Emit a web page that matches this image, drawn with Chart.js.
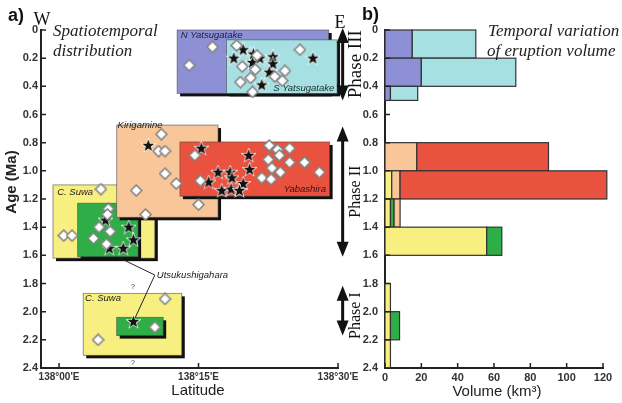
<!DOCTYPE html>
<html>
<head>
<meta charset="utf-8">
<script src="https://cdn.jsdelivr.net/npm/chart.js@4.4.1/dist/chart.umd.min.js"></script>
<style>
html,body{margin:0;padding:0;background:#fff;}
#wrap{position:relative;width:622px;height:403px;overflow:hidden;}
#wrap canvas{position:absolute;left:0;top:0;}
</style>
</head>
<body>
<div id="wrap">
<canvas id="left" width="622" height="403"></canvas>
<canvas id="right" width="622" height="403"></canvas>
</div>
<script>
// ---- axes ----
const ageTicks = [0, 0.2, 0.4, 0.6, 0.8, 1.0, 1.2, 1.4, 1.6, 1.8, 2.0, 2.2, 2.4];
const lonTicks = [0, 15, 30]; // minutes east of 138°00'
const lonLabels = ["138°00'E", "138°15'E", "138°30'E"];
const volTicks = [0, 20, 40, 60, 80, 100, 120];

// ---- a) boxes: extent of each volcano (lon in minutes from 138°00'E, age in Ma) ----
const boxKind    = ['suwa', 'utsu', 'kiri', 'yaba', 'nyatsu', 'syatsu', 'suwa', 'utsu'];
const boxLonW    = [-0.65, 2.0, 6.2, 13.0, 12.7, 18.0, 2.6, 6.2];
const boxLonE    = [10.3, 8.5, 17.1, 29.1, 29.0, 29.9, 13.2, 11.2];
const boxAgeTop  = [1.10, 1.23, 0.675, 0.795, 0.0, 0.07, 1.87, 2.04];
const boxAgeBase = [1.62, 1.61, 1.33, 1.18, 0.45, 0.45, 2.31, 2.17];

// ---- a) dated samples [lon, age] ----
const yatsuDiamonds = [[19.1,0.11],[21.3,0.18],[19.7,0.26],[21.1,0.28],[25.9,0.14],[24.3,0.29],[23.2,0.33],[24.0,0.36],[19.5,0.37],[20.6,0.34],[20.8,0.44],[16.5,0.12],[14.0,0.25]];
const yatsuStars    = [[18.8,0.20],[19.8,0.14],[20.8,0.23],[21.6,0.20],[23.0,0.19],[23.0,0.24],[22.6,0.30],[27.3,0.20],[21.8,0.39],[20.9,0.17]];
const yabaDiamonds  = [[14.6,0.89],[15.2,1.07],[22.6,0.82],[23.5,0.85],[24.8,0.84],[23.7,0.89],[22.5,0.92],[24.8,0.94],[26.4,0.94],[22.9,0.98],[23.8,1.01],[21.8,1.05],[22.8,1.06],[28.0,1.01]];
const yabaStars     = [[15.3,0.84],[20.4,0.89],[20.5,0.99],[17.1,1.01],[18.4,1.01],[16.1,1.08],[18.6,1.05],[19.8,1.09],[17.5,1.14],[18.5,1.13],[19.4,1.14]];
const kiriDiamonds  = [[11.0,0.74],[10.7,0.86],[11.4,0.86],[11.4,1.02],[12.6,1.09],[8.3,1.14],[9.3,1.31],[15.0,1.24]];
const kiriStars     = [[9.6,0.82]];
const suwaDiamonds  = [[4.5,1.13],[0.5,1.46],[1.4,1.46]];
const utsuDiamonds  = [[5.3,1.27],[5.2,1.31],[4.3,1.40],[5.5,1.43],[3.7,1.48],[5.1,1.52]];
const utsuStars     = [[5.0,1.35],[7.5,1.40],[8.0,1.49],[5.4,1.55],[6.9,1.55]];
const oldDiamonds   = [[11.4,1.91],[4.2,2.20],[10.3,2.11]];
const oldStars      = [[8.0,2.07]];

// ---- phases ----
const phaseNames = ['Phase III', 'Phase II', 'Phase I'];
const phaseTop   = [0.0, 0.70, 1.83];
const phaseBase  = [0.50, 1.61, 2.17];

// ---- b) eruption volume (km3) per age bin, stacked left to right ----
const binTop    = [0.0, 0.2, 0.4, 0.8, 1.0, 1.2, 1.4, 1.8, 2.0, 2.2];
const binBase   = [0.2, 0.4, 0.5, 1.0, 1.2, 1.4, 1.6, 2.0, 2.2, 2.4];
const volSuwa   = [0, 0, 0, 0, 3.7, 3, 56, 3, 3, 3];
const volUtsu   = [0, 0, 0, 0, 0, 2, 8.3, 0, 5, 0];
const volKiri   = [0, 0, 0, 17.5, 4.6, 3.3, 0, 0, 0, 0];
const volYaba   = [0, 0, 0, 72.5, 113.8, 0, 0, 0, 0, 0];
const volNYatsu = [15, 20, 3, 0, 0, 0, 0, 0, 0, 0];
const volSYatsu = [35, 52, 15, 0, 0, 0, 0, 0, 0, 0];

const FILL = {
  suwa: '#f7ef80', utsu: '#2fae48', kiri: '#f8c698', yaba: '#e8523e',
  nyatsu: '#8d90d5', syatsu: '#a6e0e2'
};
const SANS = '"Liberation Sans", Arial, sans-serif';
const SERIF = '"Liberation Serif", "Times New Roman", serif';
const INK = '#222';

function toPts(arr){ return arr.map(p => ({x: p[0], y: p[1]})); }

function makeDiamond(){
  const c = document.createElement('canvas');
  c.width = c.height = 13;
  const g = c.getContext('2d');
  g.beginPath(); g.moveTo(6.5,1); g.lineTo(12,6.5); g.lineTo(6.5,12); g.lineTo(1,6.5); g.closePath();
  g.fillStyle = '#fff'; g.fill();
  g.lineJoin = 'round'; g.strokeStyle = '#858585'; g.lineWidth = 1.7; g.stroke();
  return c;
}
function makeStar(){
  const c = document.createElement('canvas');
  c.width = c.height = 15;
  const g = c.getContext('2d');
  g.beginPath();
  for(let i=0;i<10;i++){
    const r = i%2 ? 2.6 : 6.3;
    const a = -Math.PI/2 + i*Math.PI/5;
    const px = 7.5 + r*Math.cos(a), py = 7.8 + r*Math.sin(a);
    if(i===0) g.moveTo(px,py); else g.lineTo(px,py);
  }
  g.closePath();
  g.strokeStyle = 'rgba(255,255,255,0.85)'; g.lineWidth = 1.6; g.stroke();
  g.fillStyle = '#111'; g.fill();
  return c;
}

// inward tick marks on both axes
function innerTicks(chart){
  const {ctx, scales:{x, y}, chartArea:a} = chart;
  ctx.save();
  ctx.strokeStyle = INK; ctx.lineWidth = 1.5;
  ctx.beginPath();
  y.ticks.forEach(t => { const py = y.getPixelForValue(t.value); ctx.moveTo(a.left, py); ctx.lineTo(a.left+5, py); });
  x.ticks.forEach(t => { const px = x.getPixelForValue(t.value); ctx.moveTo(px, a.bottom); ctx.lineTo(px, a.bottom-5); });
  ctx.stroke();
  ctx.restore();
}

function txt(ctx, s, x, y, font, align, color){
  ctx.font = font; ctx.textAlign = align || 'left'; ctx.textBaseline = 'middle';
  ctx.fillStyle = color || INK; ctx.fillText(s, x, y);
}

function vArrow(ctx, xp, ya, yb){
  const head = 15, hw = 6;
  ctx.strokeStyle = '#111'; ctx.fillStyle = '#111'; ctx.lineWidth = 3;
  ctx.beginPath(); ctx.moveTo(xp, ya+head-2); ctx.lineTo(xp, yb-head+2); ctx.stroke();
  ctx.beginPath(); ctx.moveTo(xp, ya); ctx.lineTo(xp-hw, ya+head); ctx.lineTo(xp+hw, ya+head); ctx.closePath(); ctx.fill();
  ctx.beginPath(); ctx.moveTo(xp, yb); ctx.lineTo(xp-hw, yb-head); ctx.lineTo(xp+hw, yb-head); ctx.closePath(); ctx.fill();
}

const leftDecor = {
  id: 'leftDecor',
  beforeDatasetsDraw(chart){
    const {ctx, scales:{x, y}} = chart;
    ctx.save();
    for(let i=0;i<boxKind.length;i++){
      const x0 = x.getPixelForValue(boxLonW[i]), x1 = x.getPixelForValue(boxLonE[i]);
      const y0 = y.getPixelForValue(boxAgeTop[i]), y1 = y.getPixelForValue(boxAgeBase[i]);
      ctx.fillStyle = '#111';
      ctx.fillRect(x0+3, y0+3, x1-x0, y1-y0);
      ctx.fillStyle = FILL[boxKind[i]];
      ctx.fillRect(x0, y0, x1-x0, y1-y0);
      ctx.strokeStyle = 'rgba(70,70,70,0.7)'; ctx.lineWidth = 0.8;
      ctx.strokeRect(x0, y0, x1-x0, y1-y0);
    }
    // Utsukushigahara connectors
    const jx = x.getPixelForValue(10.3), jy = y.getPixelForValue(1.74);
    ctx.strokeStyle = '#222'; ctx.lineWidth = 1;
    ctx.beginPath();
    ctx.moveTo(x.getPixelForValue(6.24), y.getPixelForValue(1.61));
    ctx.lineTo(jx, jy);
    ctx.lineTo(x.getPixelForValue(oldStars[0][0]), y.getPixelForValue(oldStars[0][1]));
    ctx.stroke();

    const lab = 'italic 9.5px ' + SANS;
    txt(ctx, 'N Yatsugatake', x.getPixelForValue(13.1), y.getPixelForValue(0.038), lab, 'left', '#1c1c3c');
    txt(ctx, 'S Yatsugatake', x.getPixelForValue(29.6), y.getPixelForValue(0.415), lab, 'right', '#1c2c2c');
    txt(ctx, 'Kirigamine', x.getPixelForValue(6.3), y.getPixelForValue(0.68), lab, 'left', '#222');
    txt(ctx, 'Yabashira', x.getPixelForValue(28.7), y.getPixelForValue(1.135), lab, 'right', '#3a1010');
    txt(ctx, 'C. Suwa', x.getPixelForValue(-0.2), y.getPixelForValue(1.15), lab, 'left', '#222');
    txt(ctx, 'C. Suwa', x.getPixelForValue(2.8), y.getPixelForValue(1.905), lab, 'left', '#222');
    txt(ctx, 'Utsukushigahara', jx+2, jy, lab, 'left', '#222');
    txt(ctx, '?', x.getPixelForValue(7.96), y.getPixelForValue(1.825), '7px ' + SANS, 'center', '#333');
    txt(ctx, '?', x.getPixelForValue(7.96), y.getPixelForValue(2.365), '7px ' + SANS, 'center', '#333');
    ctx.restore();
  },
  afterDraw(chart){
    const {ctx, scales:{x, y}} = chart;
    innerTicks(chart);
    ctx.save();
    const ax = x.getPixelForValue(30.5), tx = x.getPixelForValue(31.9);
    for(let i=0;i<phaseNames.length;i++){
      const ya = y.getPixelForValue(phaseTop[i]) - 2, yb = y.getPixelForValue(phaseBase[i]);
      vArrow(ctx, ax, ya, yb);
      ctx.save();
      ctx.translate(tx, (ya+yb)/2 + (i===2 ? 5 : 0));
      ctx.rotate(-Math.PI/2);
      txt(ctx, phaseNames[i], 0, 0, (i===0 ? '19px ' : '16px ') + SERIF, 'center', '#111');
      ctx.restore();
    }
    txt(ctx, 'a)', 8, 16, 'bold 18px ' + SANS, 'left', '#111');
    txt(ctx, 'W', 42, 20, '18px ' + SERIF, 'center', '#111');
    txt(ctx, 'E', 340, 23, '18px ' + SERIF, 'center', '#111');
    txt(ctx, 'Spatiotemporal', 53, 32, 'italic 17px ' + SERIF, 'left', '#222');
    txt(ctx, 'distribution', 53, 52, 'italic 17px ' + SERIF, 'left', '#222');
    txt(ctx, 'Latitude', 198, 391, '15px ' + SANS, 'center', '#222');
    ctx.save();
    ctx.translate(12, 182); ctx.rotate(-Math.PI/2);
    txt(ctx, 'Age (Ma)', 0, 0, 'bold 15px ' + SANS, 'center', '#222');
    ctx.restore();
    ctx.restore();
  }
};

const rightDecor = {
  id: 'rightDecor',
  beforeDatasetsDraw(chart){
    const {ctx, scales:{x, y}} = chart;
    const series = [volSuwa, volUtsu, volKiri, volYaba, volNYatsu, volSYatsu];
    const kinds = ['suwa', 'utsu', 'kiri', 'yaba', 'nyatsu', 'syatsu'];
    ctx.save();
    for(let b=0;b<binTop.length;b++){
      let cum = 0;
      const y0 = y.getPixelForValue(binTop[b]), y1 = y.getPixelForValue(binBase[b]);
      for(let s=0;s<series.length;s++){
        const v = series[s][b];
        if(!v) continue;
        const x0 = x.getPixelForValue(cum), x1 = x.getPixelForValue(cum+v);
        ctx.fillStyle = FILL[kinds[s]];
        ctx.fillRect(x0, y0, x1-x0, y1-y0);
        ctx.strokeStyle = '#333'; ctx.lineWidth = 1.2;
        ctx.strokeRect(x0, y0, x1-x0, y1-y0);
        cum += v;
      }
    }
    ctx.restore();
  },
  afterDraw(chart){
    const {ctx} = chart;
    innerTicks(chart);
    ctx.save();
    txt(ctx, 'b)', 362, 15, 'bold 18px ' + SANS, 'left', '#111');
    txt(ctx, 'Temporal variation', 488, 32, 'italic 17px ' + SERIF, 'left', '#222');
    txt(ctx, 'of eruption volume', 487, 52, 'italic 17px ' + SERIF, 'left', '#222');
    txt(ctx, 'Volume (km³)', 497, 392, '15px ' + SANS, 'center', '#222');
    ctx.restore();
  }
};

const tickFont = {family: SANS, size: 11, weight: 'bold'};
const ageAxis = (w, pad) => ({
  type: 'linear', reverse: true, min: 0, max: 2.4,
  afterFit(s){ s.width = w; },
  afterBuildTicks(s){ s.ticks = ageTicks.map(v => ({value: v})); },
  ticks: { autoSkip: false, padding: pad, color: '#333', font: tickFont,
           callback: v => v === 0 ? '0' : Number(v).toFixed(1) },
  grid: { display: false, drawTicks: false },
  border: { display: true, color: INK, width: 2 }
});

const diamondImg = makeDiamond(), starImg = makeStar();

new Chart(document.getElementById('left'), {
  type: 'scatter',
  data: {
    datasets: [
      { data: toPts([].concat(yatsuDiamonds, yabaDiamonds, kiriDiamonds, suwaDiamonds, utsuDiamonds, oldDiamonds)),
        pointStyle: diamondImg, pointRadius: 6, clip: false },
      { data: toPts([].concat(yatsuStars, yabaStars, kiriStars, utsuStars, oldStars)),
        pointStyle: starImg, pointRadius: 7, clip: false }
    ]
  },
  options: {
    responsive: false, animation: false, devicePixelRatio: 1,
    layout: { padding: { left: 0, right: 284, top: 30, bottom: 0 } },
    plugins: { legend: { display: false }, tooltip: { enabled: false } },
    events: [],
    scales: {
      x: {
        type: 'linear', min: -1.94, max: 30,
        afterFit(s){ s.height = 35; },
        afterBuildTicks(s){ s.ticks = lonTicks.map(v => ({value: v})); },
        ticks: { autoSkip: false, maxRotation: 0, padding: 3, color: '#333',
                 font: {family: SANS, size: 10, weight: 'bold'},
                 callback: v => lonLabels[lonTicks.indexOf(v)] },
        grid: { display: false, drawTicks: false },
        border: { display: true, color: INK, width: 2 }
      },
      y: ageAxis(41, 3)
    }
  },
  plugins: [leftDecor]
});

new Chart(document.getElementById('right'), {
  type: 'scatter',
  data: { datasets: [{ data: [] }] },
  options: {
    responsive: false, animation: false, devicePixelRatio: 1,
    layout: { padding: { left: 340, right: 19, top: 30, bottom: 0 } },
    plugins: { legend: { display: false }, tooltip: { enabled: false } },
    events: [],
    scales: {
      x: {
        type: 'linear', min: 0, max: 120,
        afterFit(s){ s.height = 35; },
        afterBuildTicks(s){ s.ticks = volTicks.map(v => ({value: v})); },
        ticks: { autoSkip: false, maxRotation: 0, padding: 3, color: '#333', font: tickFont },
        grid: { display: false, drawTicks: false },
        border: { display: true, color: INK, width: 2 }
      },
      y: ageAxis(45, 7)
    }
  },
  plugins: [rightDecor]
});
</script>
</body>
</html>
